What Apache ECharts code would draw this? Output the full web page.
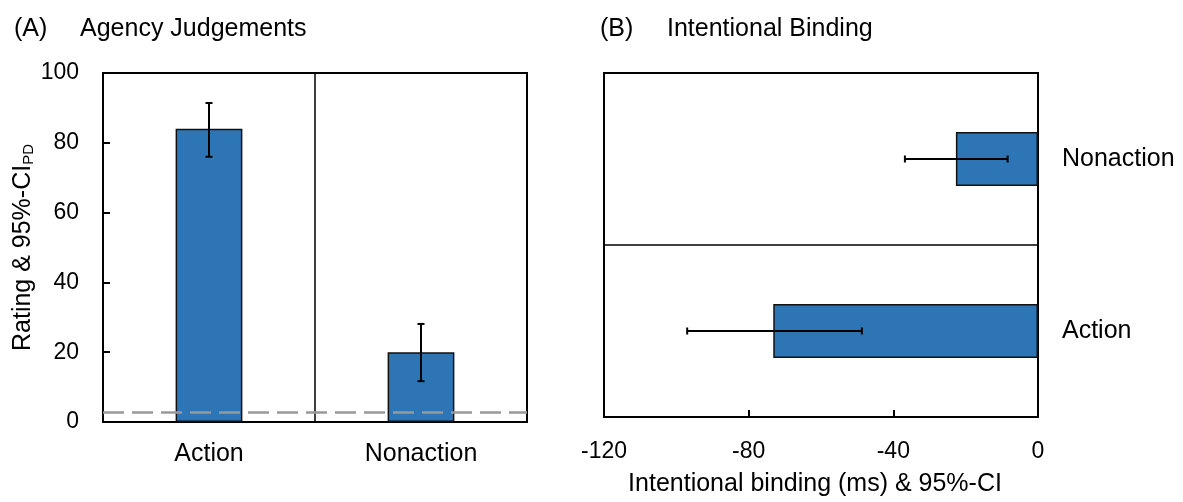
<!DOCTYPE html>
<html>
<head>
<meta charset="utf-8">
<script src="https://cdn.jsdelivr.net/npm/echarts@6/dist/echarts.min.js"></script>
<style>
  html, body { margin: 0; padding: 0; background: #ffffff; }
  #chart { width: 1183px; height: 502px; }
</style>
</head>
<body>
<div id="chart"></div>
<script>
// Conditions shared by both panels
const categories = ['Action', 'Nonaction'];

// Panel A: agency ratings with 95% CI (PD)
const ratingMeans = [84, 20];
const ratingLow = [76, 11.7];
const ratingHigh = [91.4, 28.1];
const chanceLevel = 2.9;
const ratingTicks = [0, 20, 40, 60, 80, 100];

// Panel B: intentional binding (ms) with 95% CI
const bindingMeans = [-73.2, -22.7];
const bindingLow = [-97, -36.8];
const bindingHigh = [-48.7, -8.4];
const bindingTicks = [-120, -80, -40, 0];

const FONT = '"Liberation Sans", Arial, sans-serif';
const BAR_COLOR = '#2E75B6';
const INK = '#000000';

const chart = echarts.init(document.getElementById('chart'), null, { renderer: 'canvas' });

// Vertical error bars: [categoryIndex, low, high]
const ratingErr = categories.map((c, i) => [i, ratingLow[i], ratingHigh[i]]);
// Horizontal error bars: [low, high, categoryIndex]
const bindingErr = categories.map((c, i) => [bindingLow[i], bindingHigh[i], i]);

function verticalErrorBar(params, api) {
  const lo = api.coord([api.value(0), api.value(1)]);
  const hi = api.coord([api.value(0), api.value(2)]);
  const cap = 3.5;
  const style = { stroke: INK, lineWidth: 2 };
  return {
    type: 'group',
    children: [
      { type: 'line', shape: { x1: lo[0], y1: lo[1], x2: hi[0], y2: hi[1] }, style },
      { type: 'line', shape: { x1: lo[0] - cap, y1: lo[1], x2: lo[0] + cap, y2: lo[1] }, style },
      { type: 'line', shape: { x1: hi[0] - cap, y1: hi[1], x2: hi[0] + cap, y2: hi[1] }, style }
    ]
  };
}

function horizontalErrorBar(params, api) {
  const lo = api.coord([api.value(0), api.value(2)]);
  const hi = api.coord([api.value(1), api.value(2)]);
  const cap = 3.5;
  const style = { stroke: INK, lineWidth: 2 };
  return {
    type: 'group',
    children: [
      { type: 'line', shape: { x1: lo[0], y1: lo[1], x2: hi[0], y2: hi[1] }, style },
      { type: 'line', shape: { x1: lo[0], y1: lo[1] - cap, x2: lo[0], y2: lo[1] + cap }, style },
      { type: 'line', shape: { x1: hi[0], y1: hi[1] - cap, x2: hi[0], y2: hi[1] + cap }, style }
    ]
  };
}

const option = {
  animation: false,
  backgroundColor: '#ffffff',
  textStyle: { fontFamily: FONT, color: INK },
  graphic: [
    { type: 'text', x: 14, y: 29, style: { text: '(A)', fontSize: 25, fontFamily: FONT, fill: INK, verticalAlign: 'middle' } },
    { type: 'text', x: 80, y: 29, style: { text: 'Agency Judgements', fontSize: 25, fontFamily: FONT, fill: INK, verticalAlign: 'middle' } },
    { type: 'text', x: 600, y: 29, style: { text: '(B)', fontSize: 25, fontFamily: FONT, fill: INK, verticalAlign: 'middle' } },
    { type: 'text', x: 667, y: 29, style: { text: 'Intentional Binding', fontSize: 25, fontFamily: FONT, fill: INK, verticalAlign: 'middle' } }
  ],
  grid: [
    { left: 103, top: 73, width: 424, height: 349, show: true, borderColor: INK, borderWidth: 2, containLabel: false },
    { left: 604, top: 73, width: 434, height: 348, show: true, borderColor: INK, borderWidth: 2, containLabel: false }
  ],
  xAxis: [
    {
      gridIndex: 0,
      type: 'category',
      data: categories,
      axisLine: { show: true, lineStyle: { color: INK, width: 2 } },
      axisTick: { show: false },
      axisLabel: { fontSize: 25, fontFamily: FONT, color: INK, margin: 20 },
      splitLine: { show: true, lineStyle: { color: INK, width: 1.5 } }
    },
    {
      gridIndex: 1,
      type: 'value',
      min: bindingTicks[0],
      max: bindingTicks[bindingTicks.length - 1],
      interval: bindingTicks[1] - bindingTicks[0],
      axisLine: { show: true, lineStyle: { color: INK, width: 2 } },
      axisTick: { show: true, inside: true, length: 7, lineStyle: { color: INK, width: 2 } },
      axisLabel: { fontSize: 23, fontFamily: FONT, color: INK, margin: 23 },
      splitLine: { show: false },
      name: 'Intentional binding (ms) & 95%-CI',
      nameLocation: 'middle',
      nameGap: 55,
      nameTextStyle: { fontSize: 25, fontFamily: FONT, color: INK, padding: [0, 12, 0, 0] }
    }
  ],
  yAxis: [
    {
      gridIndex: 0,
      type: 'value',
      min: ratingTicks[0],
      max: ratingTicks[ratingTicks.length - 1],
      interval: ratingTicks[1] - ratingTicks[0],
      axisLine: { show: true, lineStyle: { color: INK, width: 2 } },
      axisTick: { show: true, inside: true, length: 7, lineStyle: { color: INK, width: 2 } },
      axisLabel: { fontSize: 23, fontFamily: FONT, color: INK, margin: 24 },
      splitLine: { show: false },
      name: 'Rating & 95%-CI{sub|PD}',
      nameLocation: 'middle',
      nameGap: 67,
      nameRotate: 90,
      nameTextStyle: {
        fontSize: 25, fontFamily: FONT, color: INK,
        rich: { sub: { fontSize: 15, fontFamily: FONT, color: INK, verticalAlign: 'bottom', padding: [6, 0, 0, 0] } }
      }
    },
    {
      gridIndex: 1,
      type: 'category',
      data: categories,
      position: 'right',
      axisLine: { show: true, lineStyle: { color: INK, width: 2 } },
      axisTick: { show: false },
      axisLabel: { fontSize: 25, fontFamily: FONT, color: INK, margin: 24, padding: [6, 0, 0, 0] },
      splitLine: { show: true, lineStyle: { color: INK, width: 1.5 } }
    }
  ],
  series: [
    {
      name: 'Rating',
      type: 'bar',
      xAxisIndex: 0,
      yAxisIndex: 0,
      data: ratingMeans,
      barWidth: '31.5%',
      itemStyle: { color: BAR_COLOR, borderColor: '#111111', borderWidth: 1.5 },
      markLine: {
        silent: true,
        symbol: 'none',
        label: { show: false },
        lineStyle: { type: [21, 8], color: '#999999', width: 2.5 },
        data: [{ yAxis: chanceLevel }]
      },
      z: 2
    },
    {
      name: 'Rating CI',
      type: 'custom',
      xAxisIndex: 0,
      yAxisIndex: 0,
      data: ratingErr,
      encode: { x: 0, y: [1, 2] },
      renderItem: verticalErrorBar,
      z: 4
    },
    {
      name: 'Binding',
      type: 'bar',
      xAxisIndex: 1,
      yAxisIndex: 1,
      data: bindingMeans,
      barWidth: '31.5%',
      itemStyle: { color: BAR_COLOR, borderColor: '#111111', borderWidth: 1.5 },
      z: 2
    },
    {
      name: 'Binding CI',
      type: 'custom',
      xAxisIndex: 1,
      yAxisIndex: 1,
      data: bindingErr,
      encode: { x: [0, 1], y: 2 },
      renderItem: horizontalErrorBar,
      z: 4
    }
  ]
};

chart.setOption(option);
</script>
</body>
</html>
